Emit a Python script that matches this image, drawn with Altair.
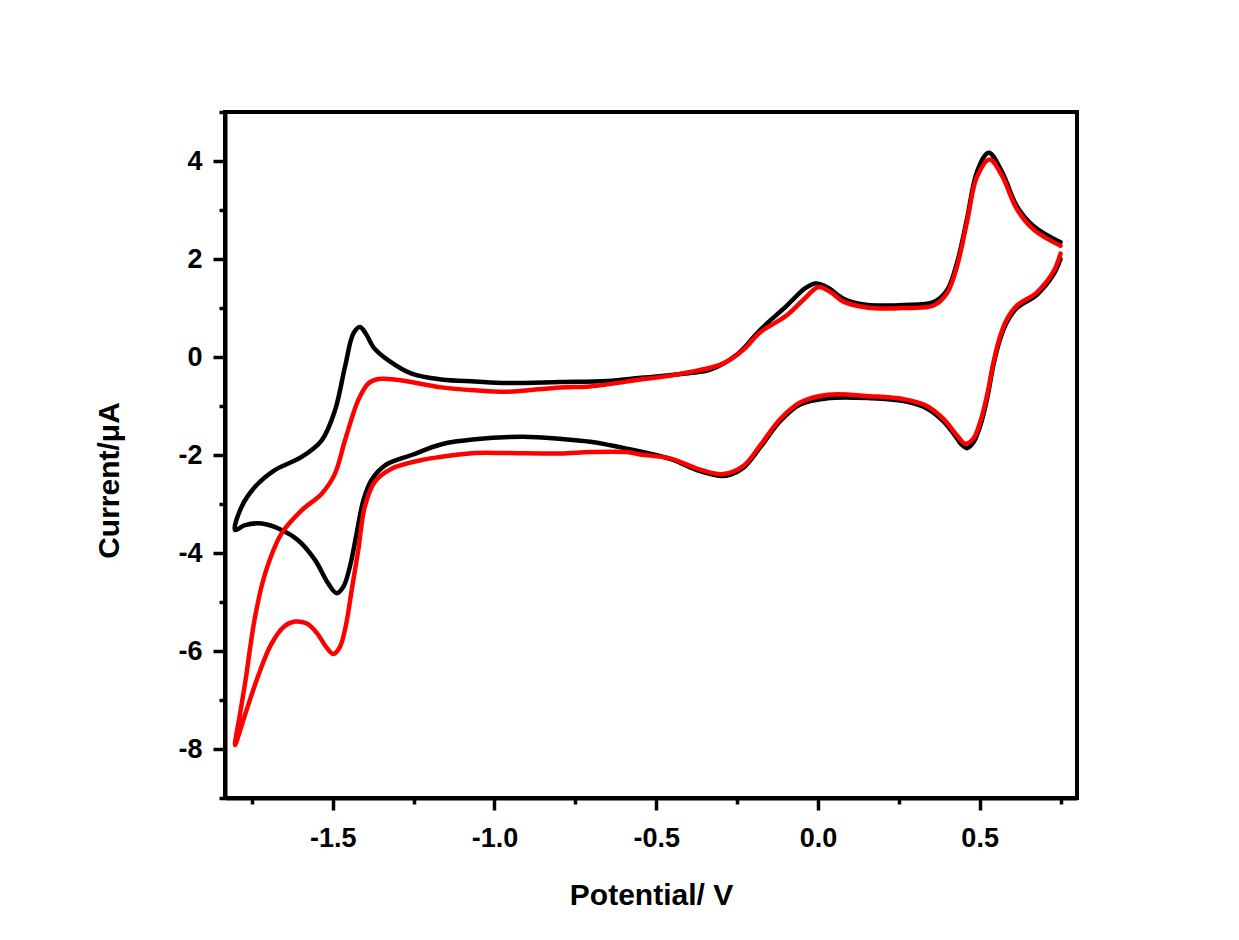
import altair as alt
import pandas as pd

# ---- data (potential in V, current in µA) ----
black_V = [0.750, 0.728, 0.677, 0.615, 0.585, 0.564, 0.543, 0.523, 0.502, 0.481, 0.461, 0.443, 0.430, 0.389,
           0.337, 0.265, 0.162, 0.030, -0.055, -0.117, -0.179, -0.230, -0.270, -0.300, -0.364, -0.457, -0.591,
           -0.704, -0.797, -0.911, -1.060, -1.163, -1.256, -1.338, -1.380, -1.405, -1.426, -1.447, -1.467,
           -1.488, -1.514, -1.555, -1.607, -1.658, -1.720, -1.771, -1.802,
           -1.782, -1.740, -1.679, -1.596, -1.534, -1.493, -1.462, -1.436, -1.416, -1.398, -1.372, -1.328,
           -1.256, -1.163, -1.060, -0.962, -0.797, -0.653, -0.539, -0.400, -0.333, -0.250, -0.179, -0.096,
           -0.040, -0.008, 0.030, 0.079, 0.141, 0.193, 0.265, 0.358, 0.399, 0.430, 0.461, 0.492, 0.528, 0.569,
           0.615, 0.667, 0.750]
black_I = [2.00, 1.68, 1.27, 1.00, 0.72, 0.38, -0.15, -0.85, -1.40, -1.74, -1.86, -1.78, -1.66, -1.32,
           -1.05, -0.90, -0.84, -0.84, -0.97, -1.31, -1.85, -2.26, -2.40, -2.43, -2.33, -2.08, -1.87,
           -1.73, -1.67, -1.63, -1.68, -1.78, -2.00, -2.21, -2.51, -2.92, -3.60, -4.28, -4.69,
           -4.82, -4.62, -4.14, -3.74, -3.53, -3.40, -3.43, -3.53,
           -3.06, -2.65, -2.31, -2.04, -1.70, -1.09, -0.20, 0.48, 0.61, 0.48, 0.18, -0.07,
           -0.34, -0.46, -0.50, -0.53, -0.51, -0.49, -0.42, -0.33, -0.26, 0.05, 0.55, 1.05,
           1.40, 1.50, 1.42, 1.19, 1.07, 1.05, 1.06, 1.12, 1.36, 1.92, 2.82, 3.78, 4.17, 3.78,
           3.08, 2.67, 2.34]

red_V = [0.750, 0.728, 0.677, 0.615, 0.585, 0.564, 0.543, 0.523, 0.502, 0.481, 0.456, 0.430, 0.389, 0.337,
         0.265, 0.162, 0.030, -0.055, -0.117, -0.179, -0.230, -0.292, -0.364, -0.457, -0.549, -0.591, -0.704,
         -0.797, -0.962, -1.060, -1.168, -1.215, -1.318, -1.370, -1.401, -1.421, -1.440, -1.460, -1.478,
         -1.498, -1.520, -1.548, -1.580, -1.617, -1.650, -1.690, -1.730, -1.770, -1.802,
         -1.787, -1.771, -1.740, -1.709, -1.658, -1.596, -1.534, -1.493, -1.462, -1.421, -1.390, -1.359,
         -1.297, -1.163, -1.060, -0.962, -0.797, -0.704, -0.539, -0.447, -0.292, -0.230, -0.179, -0.096,
         -0.040, 0.002, 0.040, 0.079, 0.141, 0.193, 0.265, 0.358, 0.399, 0.430, 0.461, 0.492, 0.531, 0.569,
         0.615, 0.667, 0.750]
red_I = [2.11, 1.74, 1.32, 1.05, 0.78, 0.44, -0.10, -0.78, -1.32, -1.66, -1.77, -1.60, -1.27, -1.00,
         -0.86, -0.80, -0.77, -0.93, -1.27, -1.81, -2.22, -2.39, -2.30, -2.07, -1.99, -1.94, -1.94,
         -1.97, -1.96, -1.96, -2.04, -2.09, -2.28, -2.55, -3.06, -3.94, -4.70, -5.50, -5.92,
         -6.06, -5.92, -5.64, -5.44, -5.40, -5.50, -5.86, -6.50, -7.28, -7.92,
         -7.30, -6.66, -5.30, -4.42, -3.60, -3.13, -2.79, -2.38, -1.70, -0.88, -0.54, -0.45,
         -0.47, -0.62, -0.68, -0.71, -0.62, -0.60, -0.45, -0.37, -0.13, 0.15, 0.50, 0.85,
         1.20, 1.43, 1.32, 1.13, 1.02, 0.99, 1.00, 1.05, 1.30, 1.85, 2.76, 3.68, 4.03, 3.70,
         3.02, 2.60, 2.27]

x_major = [-1.5, -1.0, -0.5, 0.0, 0.5]
x_minor = [-1.75, -1.25, -0.75, -0.25, 0.25, 0.75]
y_major = [4, 2, 0, -2, -4, -6, -8]
y_minor = [5, 3, 1, -1, -3, -5, -7, -9]

series_names = ["black", "red"]
series_colors = ["#000000", "#ff0000"]

rows = []
for name, vs, cs in [("black", black_V, black_I), ("red", red_V, red_I)]:
    for i, (v, c) in enumerate(zip(vs, cs)):
        rows.append({"series": name, "V": v, "I": c, "idx": i})
df = pd.DataFrame(rows)

FONT = "Liberation Sans"
xscale = alt.Scale(domain=[-1.833, 0.801], nice=False, zero=False)
yscale = alt.Scale(domain=[-9, 5], nice=False, zero=False)

fix_minus = "replace(format(datum.value, '{f}'), '\u2212', '-')"

x_axis = alt.Axis(values=x_major, labelExpr=fix_minus.format(f=".1f"), tickSize=12, tickWidth=3.5,
                  tickColor="black", domainColor="black", domainWidth=4,
                  labelFont=FONT, labelFontSize=27, labelFontWeight="bold", labelColor="black",
                  labelPadding=15, grid=False,
                  title="Potential/ V", titleFont=FONT, titleFontSize=30, titleFontWeight="bold",
                  titleColor="black", titleBaseline="alphabetic", titleY=106)
y_axis = alt.Axis(values=y_major, labelExpr=fix_minus.format(f="d"), tickSize=12, tickWidth=3.5,
                  tickColor="black", domainColor="black", domainWidth=4,
                  labelFont=FONT, labelFontSize=27, labelFontWeight="bold", labelColor="black",
                  labelPadding=11, grid=False,
                  title="Current/\u03bcA", titleFont=FONT, titleFontSize=30, titleFontWeight="bold",
                  titleColor="black", titleAngle=270, titleAlign="center", titleBaseline="alphabetic",
                  titleX=-107, titleY=368)

x_axis_minor = alt.Axis(values=x_minor, labels=False, tickSize=6, tickWidth=3.5, tickColor="black",
                        domain=False, grid=False, title=None, orient="bottom")
y_axis_minor = alt.Axis(values=y_minor, labels=False, tickSize=6, tickWidth=3.5, tickColor="black",
                        domain=False, grid=False, title=None, orient="left")

curves = alt.Chart(df).mark_line(strokeWidth=4.5, interpolate="catmull-rom", strokeCap="round",
                                 strokeJoin="round").encode(
    x=alt.X("V:Q", scale=xscale, axis=x_axis),
    y=alt.Y("I:Q", scale=yscale, axis=y_axis),
    color=alt.Color("series:N", scale=alt.Scale(domain=series_names, range=series_colors), legend=None),
    order=alt.Order("idx:Q"),
)

minor = alt.Chart(df).mark_point(opacity=0).encode(
    x=alt.X("V:Q", scale=xscale, axis=x_axis_minor),
    y=alt.Y("I:Q", scale=yscale, axis=y_axis_minor),
)

chart = alt.layer(curves, minor).resolve_axis(x="independent", y="independent").properties(
    width=852, height=686,
    autosize=alt.AutoSizeParams(type="none"),
    padding={"left": 225, "top": 112, "right": 162, "bottom": 142},
    background="white",
).configure_view(stroke="black", strokeWidth=4)

chart.save("out.html", embed_options={"renderer": "svg", "actions": False})
